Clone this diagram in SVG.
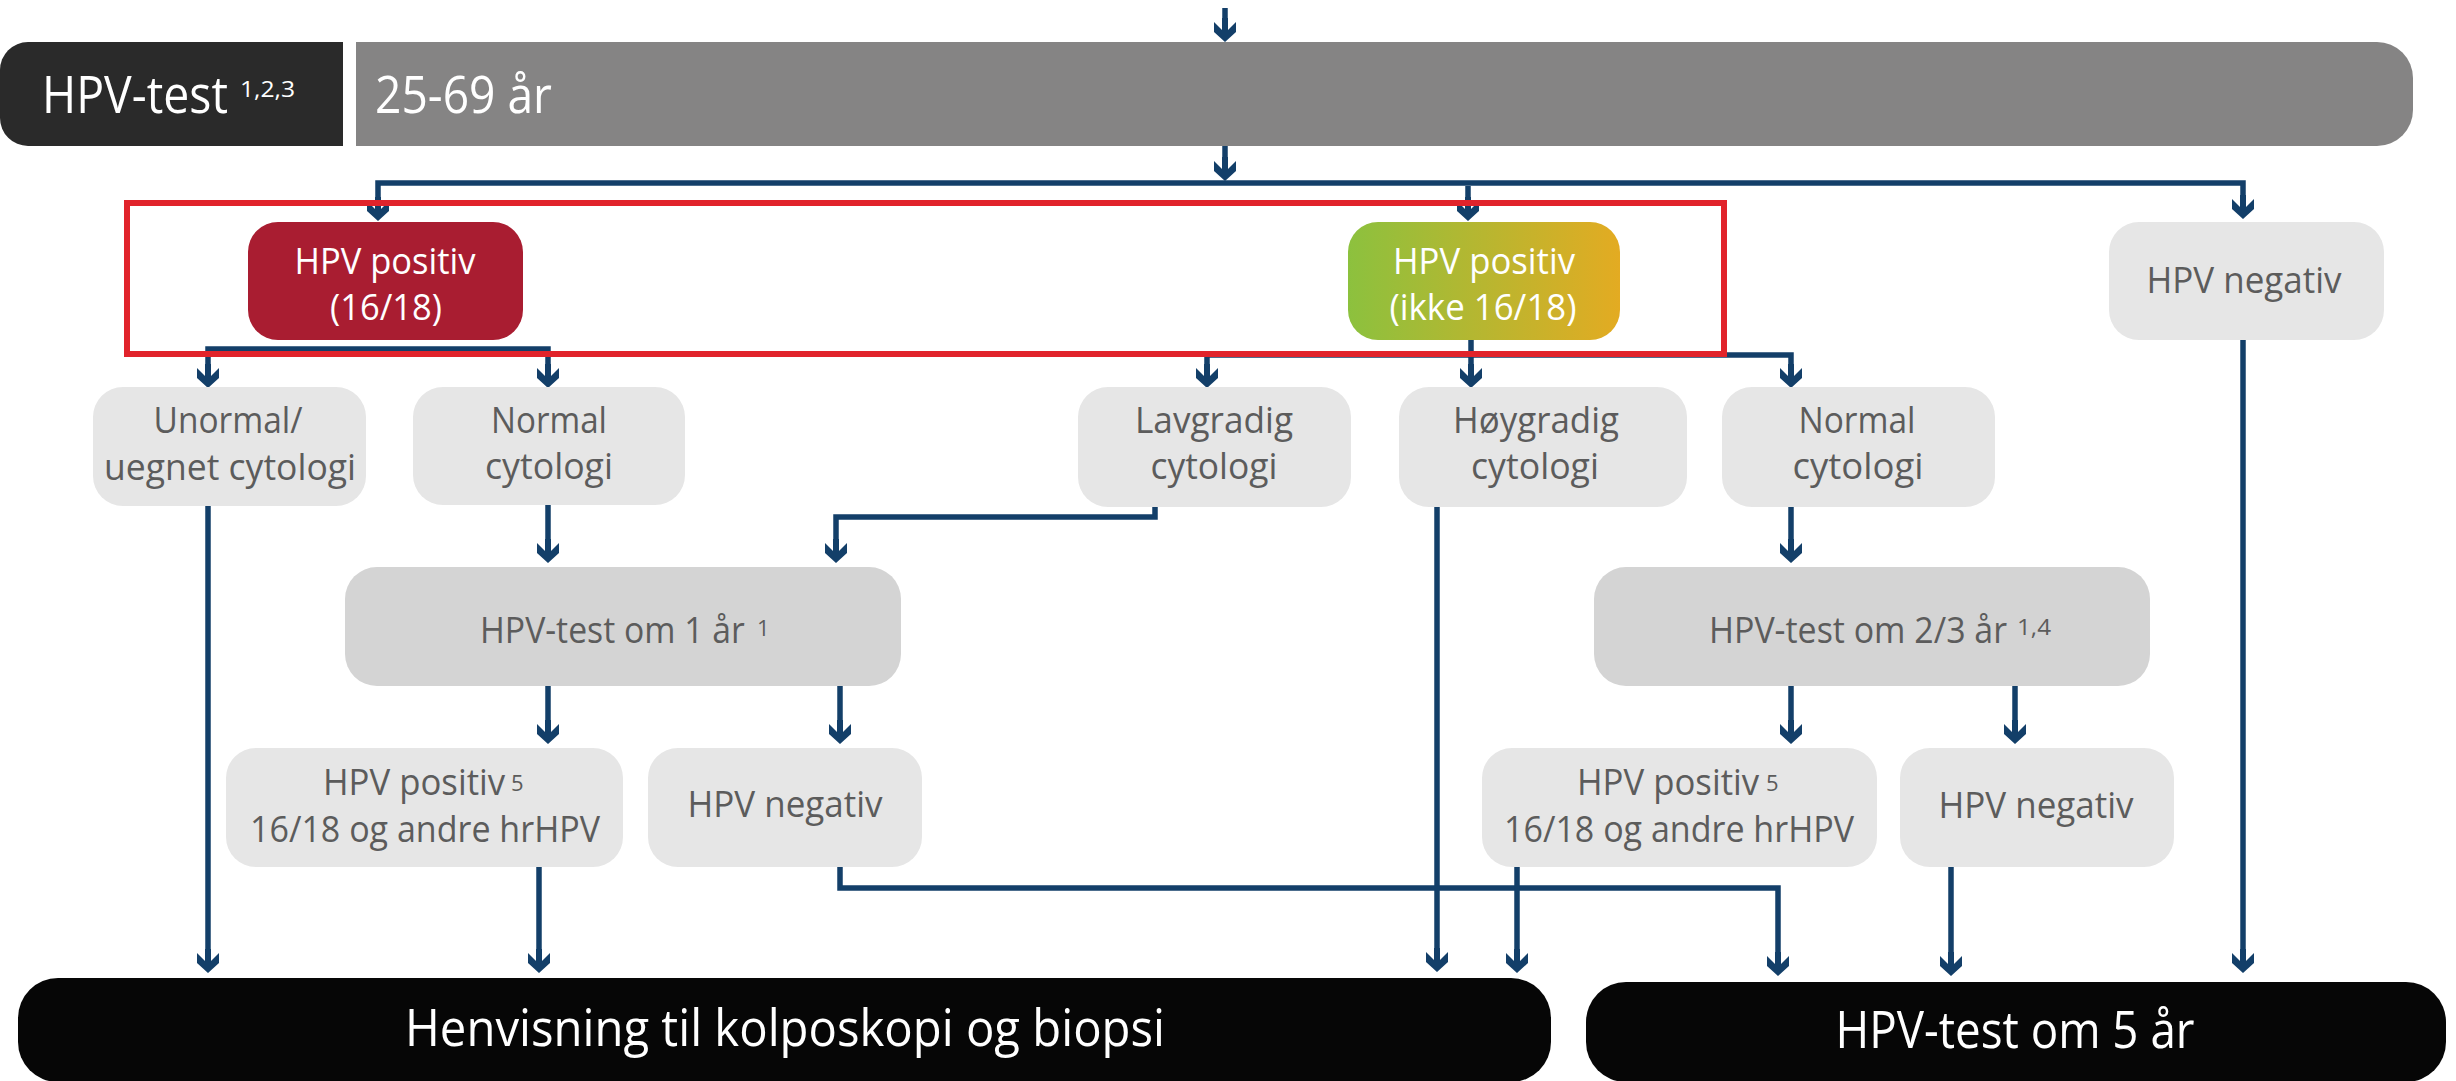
<svg xmlns="http://www.w3.org/2000/svg" width="2456" height="1081" viewBox="0 0 2456 1081">
<defs>
<style>
.t{font-family:"Open Sans","Liberation Sans",sans-serif;}
.w{fill:#ffffff;}
.g{fill:#5c5c5c;}
.n{font-size:37px;}
.big{font-size:52px;}
.sup{font-size:22px;}
.lg{fill:#e6e6e6;}
.mg{fill:#d4d4d4;}
.blk{fill:#060606;}
.c{fill:none;stroke:#133f69;stroke-width:5.5;stroke-linejoin:miter;marker-end:url(#arr);}
.cs{marker-start:url(#arr);}
</style>
<marker id="arr" markerUnits="userSpaceOnUse" markerWidth="40" markerHeight="40" viewBox="-30 -20 40 40" refX="-10" refY="0" orient="auto-start-reverse" overflow="visible">
<path d="M0,0 L-10,-11 L-20,-11 L-12,-3 L-24,-3 L-24,3 L-12,3 L-20,11 L-10,11 Z" fill="#133f69"/>
</marker>
<linearGradient id="grad" x1="0" y1="0" x2="1" y2="0">
<stop offset="0" stop-color="#8cc13e"/>
<stop offset="1" stop-color="#e3ab22"/>
</linearGradient>
</defs>
<rect width="2456" height="1081" fill="#ffffff"/>

<g id="connectors">
<path class="c" d="M1225,8 V32"/>
<path class="c" d="M1225,146 V171"/>
<path class="c cs" d="M378,211 V183 H2243 V209"/>
<path class="c" d="M1468,186 V211"/>
<path class="c cs" d="M208,378 V349 H548 V378"/>
<path class="c cs" d="M1207,378 V355 H1791 V378"/>
<path class="c" d="M1471,340 V378"/>
<path class="c" d="M2243,340 V963"/>
<path class="c" d="M208,506 V963"/>
<path class="c" d="M548,504 V553"/>
<path class="c" d="M1155,507 V517 H836 V553"/>
<path class="c" d="M1437,507 V962"/>
<path class="c" d="M1791,507 V553"/>
<path class="c" d="M548,686 V734"/>
<path class="c" d="M840,686 V734"/>
<path class="c" d="M1791,686 V734"/>
<path class="c" d="M2015,686 V734"/>
<path class="c" d="M539,867 V963"/>
<path class="c" d="M840,867 V888 H1778 V966"/>
<path class="c" d="M1517,867 V963"/>
<path class="c" d="M1951,867 V966"/>
</g>

<g id="highlight">
<rect x="127" y="203" width="1597" height="151" fill="none" stroke="#e1232b" stroke-width="6"/>
</g>

<g id="hpv-test-label">
<path d="M28,42 H343 V146 H28 A28,28 0 0 1 0,118 V70 A28,28 0 0 1 28,42 Z" fill="#2a2a2a"/>
<text class="t w big" transform="translate(42,113) scale(0.894,1)" textLength="208" lengthAdjust="spacingAndGlyphs">HPV-test</text>
<text class="t w sup" x="240" y="97" textLength="55" lengthAdjust="spacingAndGlyphs">1,2,3</text>
</g>

<g id="age-bar">
<path d="M356,42 H2377 A36,36 0 0 1 2413,78 V110 A36,36 0 0 1 2377,146 H356 Z" fill="#858484"/>
<text class="t w big" x="375" y="113" textLength="177" lengthAdjust="spacingAndGlyphs">25-69 år</text>
</g>

<g id="pos-1618">
<rect x="248" y="222" width="275" height="118" rx="30" fill="#a91d31"/>
<text class="t w n" x="385" y="274" text-anchor="middle" textLength="181" lengthAdjust="spacingAndGlyphs">HPV positiv</text>
<text class="t w n" x="386" y="320" text-anchor="middle" textLength="112" lengthAdjust="spacingAndGlyphs">(16/18)</text>
</g>

<g id="pos-ikke">
<rect x="1348" y="222" width="272" height="118" rx="30" fill="url(#grad)"/>
<text class="t w n" x="1484" y="274" text-anchor="middle" textLength="182" lengthAdjust="spacingAndGlyphs">HPV positiv</text>
<text class="t w n" x="1483" y="320" text-anchor="middle" textLength="187" lengthAdjust="spacingAndGlyphs">(ikke 16/18)</text>
</g>

<g id="neg-top">
<rect x="2109" y="222" width="275" height="118" rx="30" class="lg"/>
<text class="t g n" x="2244" y="293" text-anchor="middle" textLength="195" lengthAdjust="spacingAndGlyphs">HPV negativ</text>
</g>

<g id="unormal">
<rect x="93" y="387" width="273" height="119" rx="30" class="lg"/>
<text class="t g n" x="228" y="433" text-anchor="middle" textLength="149" lengthAdjust="spacingAndGlyphs">Unormal/</text>
<text class="t g n" x="230" y="480" text-anchor="middle" textLength="252" lengthAdjust="spacingAndGlyphs">uegnet cytologi</text>
</g>

<g id="normal-left">
<rect x="413" y="387" width="272" height="118" rx="30" class="lg"/>
<text class="t g n" x="549" y="433" text-anchor="middle" textLength="116" lengthAdjust="spacingAndGlyphs">Normal</text>
<text class="t g n" x="549" y="479" text-anchor="middle" textLength="128" lengthAdjust="spacingAndGlyphs">cytologi</text>
</g>

<g id="lavgradig">
<rect x="1078" y="387" width="273" height="120" rx="30" class="lg"/>
<text class="t g n" x="1214" y="433" text-anchor="middle" textLength="158" lengthAdjust="spacingAndGlyphs">Lavgradig</text>
<text class="t g n" x="1214" y="479" text-anchor="middle" textLength="127" lengthAdjust="spacingAndGlyphs">cytologi</text>
</g>

<g id="hoygradig">
<rect x="1399" y="387" width="288" height="120" rx="30" class="lg"/>
<text class="t g n" x="1536" y="433" text-anchor="middle" textLength="166" lengthAdjust="spacingAndGlyphs">Høygradig</text>
<text class="t g n" x="1535" y="479" text-anchor="middle" textLength="128" lengthAdjust="spacingAndGlyphs">cytologi</text>
</g>

<g id="normal-right">
<rect x="1722" y="387" width="273" height="120" rx="30" class="lg"/>
<text class="t g n" x="1857" y="433" text-anchor="middle" textLength="117" lengthAdjust="spacingAndGlyphs">Normal</text>
<text class="t g n" x="1858" y="479" text-anchor="middle" textLength="131" lengthAdjust="spacingAndGlyphs">cytologi</text>
</g>

<g id="test-1-ar">
<rect x="345" y="567" width="556" height="119" rx="32" class="mg"/>
<text class="t g n" transform="translate(480,643) scale(0.913,1)" textLength="290" lengthAdjust="spacingAndGlyphs">HPV-test om 1 år</text>
<text class="t g sup" x="757" y="636">1</text>
</g>

<g id="test-2-3-ar">
<rect x="1594" y="567" width="556" height="119" rx="32" class="mg"/>
<text class="t g n" transform="translate(1709,643) scale(0.917,1)" textLength="325" lengthAdjust="spacingAndGlyphs">HPV-test om 2/3 år</text>
<text class="t g sup" x="2017" y="635" textLength="34" lengthAdjust="spacingAndGlyphs">1,4</text>
</g>

<g id="pos-left">
<rect x="226" y="748" width="397" height="119" rx="30" class="lg"/>
<text class="t g n" transform="translate(323,795) scale(0.939,1)" textLength="194" lengthAdjust="spacingAndGlyphs">HPV positiv</text>
<text class="t g sup" x="511" y="791">5</text>
<text class="t g n" x="425" y="842" text-anchor="middle" textLength="350" lengthAdjust="spacingAndGlyphs">16/18 og andre hrHPV</text>
</g>

<g id="neg-left">
<rect x="648" y="748" width="274" height="119" rx="30" class="lg"/>
<text class="t g n" x="785" y="817" text-anchor="middle" textLength="195" lengthAdjust="spacingAndGlyphs">HPV negativ</text>
</g>

<g id="pos-right">
<rect x="1482" y="748" width="395" height="119" rx="30" class="lg"/>
<text class="t g n" transform="translate(1577,795) scale(0.939,1)" textLength="194" lengthAdjust="spacingAndGlyphs">HPV positiv</text>
<text class="t g sup" x="1766" y="791">5</text>
<text class="t g n" x="1679" y="842" text-anchor="middle" textLength="350" lengthAdjust="spacingAndGlyphs">16/18 og andre hrHPV</text>
</g>

<g id="neg-right">
<rect x="1900" y="748" width="274" height="119" rx="30" class="lg"/>
<text class="t g n" x="2036" y="818" text-anchor="middle" textLength="195" lengthAdjust="spacingAndGlyphs">HPV negativ</text>
</g>

<g id="henvisning">
<rect x="18" y="978" width="1533" height="104" rx="40" class="blk"/>
<text class="t w big" x="785" y="1046" text-anchor="middle" textLength="760" lengthAdjust="spacingAndGlyphs">Henvisning til kolposkopi og biopsi</text>
</g>

<g id="test-5-ar">
<rect x="1586" y="982" width="860" height="100" rx="40" class="blk"/>
<text class="t w big" x="2015" y="1048" text-anchor="middle" textLength="359" lengthAdjust="spacingAndGlyphs">HPV-test om 5 år</text>
</g>
</svg>
